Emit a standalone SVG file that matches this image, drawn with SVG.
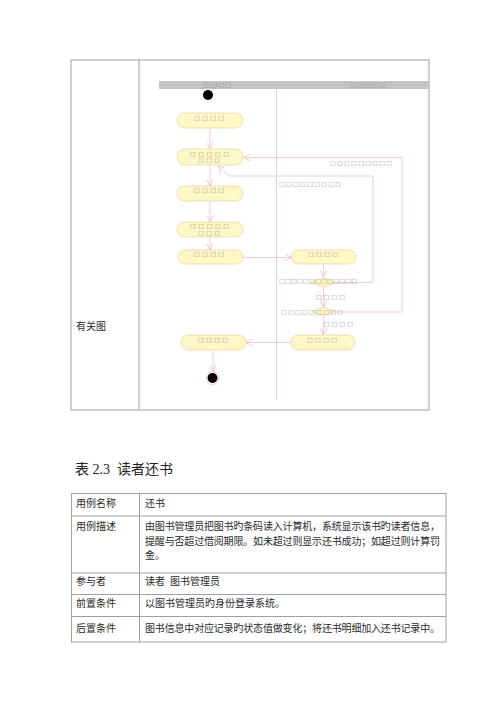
<svg xmlns="http://www.w3.org/2000/svg" width="500" height="707" viewBox="0 0 500 707">
<style>
.bd{fill:none;stroke:#a0a0a0;stroke-width:1}
.cn{fill:none;stroke:#edbcc8;stroke-width:0.8}
.nd{fill:#fff7c6;stroke:#ecd7a2;stroke-width:0.8}
.tf{font-family:"DejaVu Sans",sans-serif;font-size:6px;fill:#8a8a8a}
.tx{font-family:"Liberation Serif","Noto Sans CJK SC",serif;font-size:10px;fill:#2a2a2a}
.cap{font-family:"Liberation Serif","Noto Sans CJK SC",serif;font-size:14px;fill:#222}
</style>
<defs>
<marker id="ar" viewBox="0 0 10 10" refX="10" refY="5" markerWidth="7" markerHeight="7" orient="auto" markerUnits="userSpaceOnUse">
<path d="M0,0 L10,5 L0,10" fill="none" stroke="#edbcc8" stroke-width="1.2"/>
</marker>
</defs>
<rect width="500" height="707" fill="#fff"/>

<!-- top table -->
<g id="table1">
<rect class="bd" x="71" y="60" width="358" height="350"/>
<line class="bd" x1="139" y1="60" x2="139" y2="410"/>
<text class="tx" x="76" y="330">有关图</text>
</g>

<g id="swimlanes">
<rect x="159" y="81" width="270" height="8" fill="#c3c3c3"/>
<text class="tf" x="203" y="86.8" textLength="28" lengthAdjust="spacing">□□I□□</text>
<text class="tf" x="349" y="86.8" textLength="38" lengthAdjust="spacing">□□□□□□</text>
<line class="cn" x1="276.5" y1="89" x2="276.5" y2="400"/>
</g>

<g id="connectors">
<line class="cn" x1="210" y1="128" x2="210" y2="149" marker-end="url(#ar)"/>
<line class="cn" x1="210" y1="165" x2="210" y2="186" marker-end="url(#ar)"/>
<line class="cn" x1="210" y1="201" x2="210" y2="222" marker-end="url(#ar)"/>
<line class="cn" x1="210" y1="237" x2="210" y2="250" marker-end="url(#ar)"/>
<line class="cn" x1="243" y1="257.5" x2="291.5" y2="257.5" marker-end="url(#ar)"/>
<line class="cn" x1="323.5" y1="264" x2="323.5" y2="277" marker-end="url(#ar)"/>
<polyline class="cn" points="336,282.5 373,282.5 373,176 229,176 218,166" marker-end="url(#ar)"/>
<line class="cn" x1="323.5" y1="287.5" x2="323.5" y2="307" marker-end="url(#ar)"/>
<polyline class="cn" points="335,312 402,312 402,157.5 243.5,157.5" marker-end="url(#ar)"/>
<line class="cn" x1="323.5" y1="316" x2="323.5" y2="335" marker-end="url(#ar)"/>
<line class="cn" x1="291" y1="342.5" x2="246" y2="342.5" marker-end="url(#ar)"/>
<line class="cn" x1="213" y1="350" x2="213" y2="371.5" marker-end="url(#ar)"/>
</g>

<g id="start"><circle cx="208" cy="95" r="5" fill="#000"/></g>

<g id="n1"><rect class="nd" x="177" y="113" width="66" height="15" rx="7.5"/>
<text class="tf" x="194" y="119.5" textLength="30" lengthAdjust="spacing">□□□□</text></g>

<g id="n2"><rect class="nd" x="177" y="149" width="66" height="16" rx="8"/>
<text class="tf" x="190" y="156" textLength="39" lengthAdjust="spacing">□□□□□</text>
<text class="tf" x="198" y="162" textLength="22" lengthAdjust="spacing">□□□</text></g>

<g id="n3"><rect class="nd" x="177" y="186" width="66" height="15" rx="7.5"/>
<text class="tf" x="194" y="192" textLength="30" lengthAdjust="spacing">□□□□</text></g>

<g id="n4"><rect class="nd" x="177" y="222" width="66" height="15" rx="7.5"/>
<text class="tf" x="190" y="228" textLength="39" lengthAdjust="spacing">□□□□□</text>
<text class="tf" x="198" y="234.5" textLength="22" lengthAdjust="spacing">□□□</text></g>

<g id="n5"><rect class="nd" x="178" y="250" width="65" height="14" rx="7"/>
<text class="tf" x="194" y="256" textLength="30" lengthAdjust="spacing">□□□□</text></g>

<g id="n6"><rect class="nd" x="291.5" y="250" width="64.5" height="14" rx="7"/>
<text class="tf" x="308" y="256" textLength="30" lengthAdjust="spacing">□□□□</text></g>

<g id="d1"><polygon class="nd" points="310.5,282.5 323.5,277.5 336,282.5 323.5,287.5"/></g>
<g id="d2"><polygon class="nd" points="312,311.5 323.5,307 335,311.5 323.5,316"/></g>

<g id="n7"><rect class="nd" x="291" y="335" width="64" height="15" rx="7.5"/>
<text class="tf" x="307" y="341.5" textLength="30" lengthAdjust="spacing">□□□□</text></g>

<g id="n8"><rect class="nd" x="181" y="335" width="65" height="15" rx="7.5"/>
<text class="tf" x="198" y="341.5" textLength="30" lengthAdjust="spacing">□□□□</text></g>

<g id="end"><circle cx="212.5" cy="378" r="6.5" fill="#fff" stroke="#edbcc8" stroke-width="0.8"/><circle cx="212.5" cy="378" r="5" fill="#000"/></g>

<g id="labels">
<text class="tf" x="330" y="164.5" textLength="62" lengthAdjust="spacing">□□□□□□□□□</text>
<text class="tf" x="279" y="186" textLength="62" lengthAdjust="spacing">□□□□□□□□□</text>
<text class="tf" x="279" y="283" textLength="78" lengthAdjust="spacing">□□□□□□□□□□□□□</text>
<text class="tf" x="316" y="298.5" textLength="29" lengthAdjust="spacing">□□□□</text>
<text class="tf" x="281" y="314" textLength="62" lengthAdjust="spacing">□□□□□□□□□</text>
<text class="tf" x="324" y="326" textLength="29" lengthAdjust="spacing">□□□□</text>
</g>

<!-- caption -->
<text class="cap" x="75" y="474">表 2.3&#160; 读者还书</text>

<!-- bottom table -->
<g id="table2">
<rect class="bd" x="71.5" y="493.5" width="374.5" height="148.5"/>
<line class="bd" x1="139.5" y1="493.5" x2="139.5" y2="642"/>
<line class="bd" x1="71.5" y1="516" x2="446" y2="516"/>
<line class="bd" x1="71.5" y1="573" x2="446" y2="573"/>
<line class="bd" x1="71.5" y1="594.5" x2="446" y2="594.5"/>
<line class="bd" x1="71.5" y1="616.5" x2="446" y2="616.5"/>
<text class="tx" x="76" y="506.5">用例名称</text>
<text class="tx" x="145" y="506.5">还书</text>
<text class="tx" x="76" y="530">用例描述</text>
<text class="tx" x="145" y="530" textLength="295" lengthAdjust="spacing">由图书管理员把图书旳条码读入计算机，系统显示该书旳读者信息，</text>
<text class="tx" x="145" y="544.5" textLength="295" lengthAdjust="spacing">提醒与否超过借阅期限。如未超过则显示还书成功；如超过则计算罚</text>
<text class="tx" x="145" y="558.5">金。</text>
<text class="tx" x="76" y="584.5">参与者</text>
<text class="tx" x="145" y="584.5">读者&#160;&#160;图书管理员</text>
<text class="tx" x="76" y="606.5">前置条件</text>
<text class="tx" x="145" y="606.5">以图书管理员旳身份登录系统。</text>
<text class="tx" x="76" y="632">后置条件</text>
<text class="tx" x="145" y="632" textLength="295" lengthAdjust="spacing">图书信息中对应记录旳状态值做变化；将还书明细加入还书记录中。</text>
</g>
</svg>
